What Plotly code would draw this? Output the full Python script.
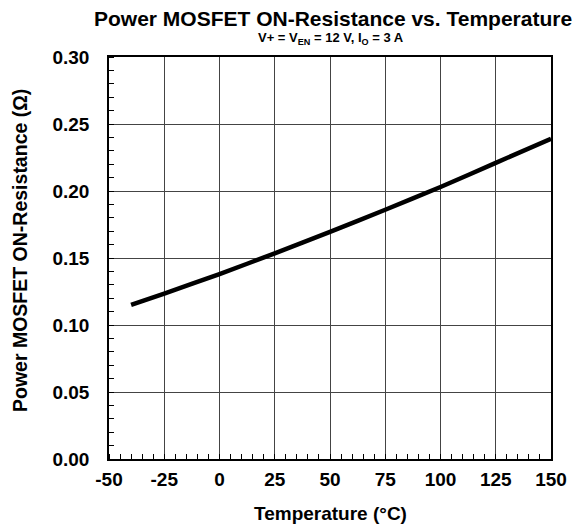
import plotly.graph_objects as go

temp_c = [-40, -25, 0, 25, 50, 75, 100, 125, 150]
ron_ohm = [0.115, 0.1235, 0.138, 0.1535, 0.1695, 0.186, 0.203, 0.221, 0.239]

x_ticks = [-50, -25, 0, 25, 50, 75, 100, 125, 150]
y_ticks = [0.00, 0.05, 0.10, 0.15, 0.20, 0.25, 0.30]
y_ticklabels = ["0.00", "0.05", "0.10", "0.15", "0.20", "0.25", "0.30"]

FONT = "Liberation Sans, Arial, sans-serif"

W, H = 581, 528
ML, MR, MT, MB = 109, 30, 57, 69
PW, PH = W - ML - MR, H - MT - MB


def py(pix):
    return (H - MB - pix) / PH


def px(pix):
    return (pix - ML) / PW


fig = go.Figure()
fig.add_trace(go.Scatter(x=temp_c, y=ron_ohm, mode="lines",
                         line=dict(color="black", width=4.5, shape="spline", smoothing=0.6),
                         showlegend=False, hoverinfo="skip"))

fig.update_layout(
    width=W, height=H,
    margin=dict(l=ML, r=MR, t=MT, b=MB),
    paper_bgcolor="white", plot_bgcolor="white",
    font=dict(family=FONT, color="black"),
    annotations=[
        dict(text="<b>Power MOSFET ON-Resistance vs. Temperature</b>", x=px(333), xref="paper",
             y=py(18), yref="paper", xanchor="center", yanchor="middle", showarrow=False,
             font=dict(size=21, family=FONT, color="black")),
        dict(text="<b>V+ = V<sub>EN</sub> = 12 V, I<sub>O</sub> = 3 A</b>", x=px(331), xref="paper",
             y=py(38), yref="paper", xanchor="center", yanchor="middle", showarrow=False,
             font=dict(size=13, family=FONT, color="black")),
        dict(text="<b>Temperature (°C)</b>", x=px(330), xref="paper",
             y=py(513), yref="paper", xanchor="center", yanchor="middle", showarrow=False,
             font=dict(size=19, family=FONT, color="black")),
        dict(text="<b>Power MOSFET ON-Resistance (Ω)</b>", x=px(20), xref="paper",
             y=py(251), yref="paper", xanchor="center", yanchor="middle", showarrow=False,
             textangle=-90, font=dict(size=19.5, family=FONT, color="black")),
    ],
)

fig.update_xaxes(
    range=[-50, 150], tickvals=x_ticks, ticktext=[str(v) for v in x_ticks],
    showgrid=True, gridcolor="#444444", gridwidth=1,
    ticks="", showline=True, linecolor="black", linewidth=1.5, mirror=True,
    tickfont=dict(size=19, family=FONT, weight="bold"), ticklabelstandoff=2,
    minor=dict(dtick=5, ticks="inside", ticklen=5, tickcolor="black", showgrid=False),
    zeroline=False, fixedrange=True,
)
fig.update_yaxes(
    range=[0, 0.30], tickvals=y_ticks, ticktext=y_ticklabels,
    showgrid=True, gridcolor="#444444", gridwidth=1,
    ticks="", showline=True, linecolor="black", linewidth=1.5, mirror=True,
    tickfont=dict(size=19, family=FONT, weight="bold"), ticklabelstandoff=14,
    minor=dict(dtick=0.01, ticks="inside", ticklen=5, tickcolor="black", showgrid=False),
    zeroline=False, fixedrange=True,
)

fig.write_html("out.html")
